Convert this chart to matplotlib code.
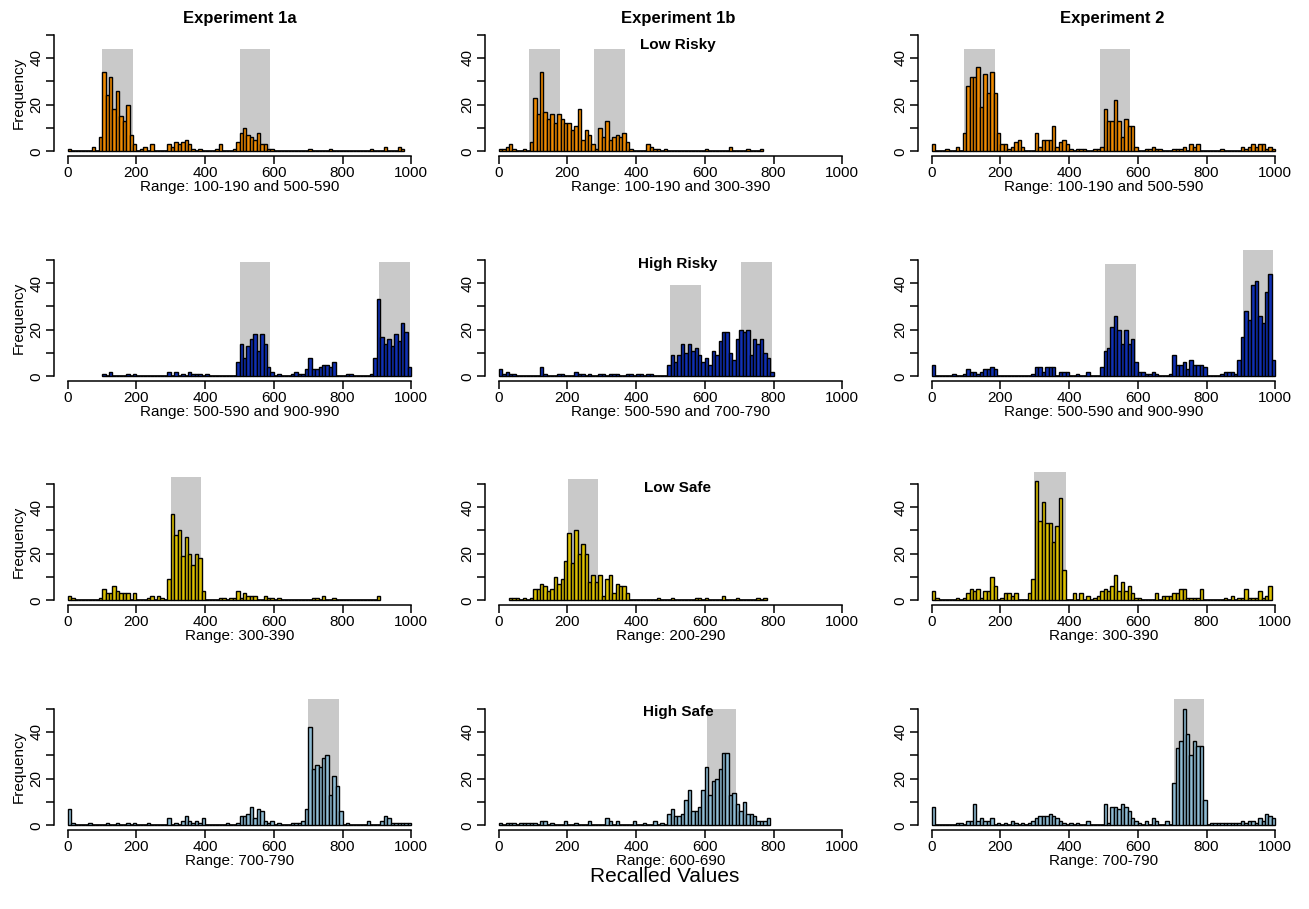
import numpy as np
import matplotlib
matplotlib.use('Agg')
from matplotlib import pyplot as plt
from matplotlib.patches import Rectangle


# histogram counts, bins of width 10 from 0 to 1000
e1a_low_risky = [
    1, 0, 0, 0, 0, 0, 0, 2, 0, 6,
    34, 24, 32, 18, 26, 15, 13, 20, 7, 3,
    0, 1, 2, 0, 3, 0, 0, 0, 0, 3,
    2, 4, 3, 4, 5, 3, 1, 0, 1, 0,
    0, 0, 0, 1, 3, 0, 0, 0, 1, 4,
    8, 10, 7, 6, 5, 8, 3, 3, 1, 1,
    0, 0, 0, 0, 0, 0, 0, 0, 0, 0,
    1, 0, 0, 0, 0, 0, 1, 0, 0, 0,
    0, 0, 0, 0, 0, 0, 0, 0, 1, 0,
    0, 0, 2, 0, 0, 0, 2, 1, 0, 0,
]
e1b_low_risky = [
    1, 1, 2, 3, 1, 0, 0, 1, 0, 4,
    23, 16, 34, 17, 14, 16, 12, 16, 14, 12,
    12, 9, 11, 18, 5, 9, 7, 3, 1, 10,
    6, 13, 5, 6, 7, 6, 8, 4, 1, 0,
    0, 0, 0, 3, 2, 1, 1, 0, 1, 0,
    0, 0, 0, 0, 0, 0, 0, 0, 0, 0,
    1, 0, 0, 0, 0, 0, 0, 2, 0, 0,
    0, 0, 1, 0, 0, 0, 1, 0, 0, 0,
    0, 0, 0, 0, 0, 0, 0, 0, 0, 0,
    0, 0, 0, 0, 0, 0, 0, 0, 0, 0,
]
e2_low_risky = [
    3, 0, 0, 0, 1, 0, 0, 2, 0, 8,
    28, 32, 32, 36, 19, 33, 25, 34, 25, 8,
    3, 3, 1, 2, 4, 5, 2, 0, 0, 0,
    8, 2, 5, 5, 5, 11, 2, 4, 5, 3,
    1, 0, 1, 1, 1, 0, 0, 1, 1, 2,
    18, 13, 13, 22, 13, 6, 14, 11, 11, 2,
    0, 0, 1, 1, 2, 1, 1, 0, 0, 0,
    1, 1, 1, 2, 0, 3, 2, 3, 0, 0,
    0, 0, 0, 0, 1, 0, 0, 0, 0, 0,
    2, 1, 2, 3, 2, 3, 3, 1, 2, 1,
]

e1a_high_risky = [
    0, 0, 0, 0, 0, 0, 0, 0, 0, 0,
    1, 0, 2, 0, 0, 0, 0, 1, 0, 1,
    0, 0, 0, 0, 0, 0, 0, 0, 0, 2,
    0, 2, 0, 1, 0, 2, 1, 1, 1, 0,
    1, 0, 0, 0, 0, 0, 0, 0, 0, 6,
    14, 8, 13, 16, 18, 11, 18, 14, 4, 2,
    0, 1, 0, 0, 0, 1, 2, 1, 1, 3,
    8, 3, 3, 4, 5, 5, 4, 6, 0, 0,
    0, 1, 1, 0, 0, 0, 0, 0, 1, 8,
    33, 17, 14, 16, 13, 18, 15, 23, 19, 4,
]
e1b_high_risky = [
    3, 1, 2, 1, 1, 0, 0, 0, 0, 0,
    0, 0, 4, 1, 0, 0, 0, 1, 1, 0,
    0, 0, 2, 1, 1, 0, 1, 0, 0, 1,
    1, 0, 1, 1, 1, 0, 0, 1, 1, 0,
    1, 1, 0, 1, 1, 0, 0, 0, 0, 5,
    9, 6, 9, 14, 10, 14, 11, 12, 9, 6,
    8, 5, 11, 9, 15, 19, 19, 10, 7, 16,
    20, 19, 20, 9, 16, 14, 16, 10, 8, 2,
    0, 0, 0, 0, 0, 0, 0, 0, 0, 0,
    0, 0, 0, 0, 0, 0, 0, 0, 0, 0,
]
e2_high_risky = [
    5, 0, 0, 0, 0, 0, 1, 0, 0, 1,
    3, 2, 2, 1, 2, 3, 3, 4, 3, 0,
    0, 0, 0, 0, 0, 0, 0, 0, 0, 1,
    4, 4, 2, 4, 4, 4, 0, 2, 2, 2,
    0, 0, 1, 0, 0, 2, 0, 0, 0, 4,
    11, 12, 21, 26, 20, 14, 20, 14, 16, 6,
    2, 2, 1, 1, 2, 1, 0, 0, 0, 1,
    9, 5, 5, 6, 3, 7, 5, 5, 5, 4,
    0, 0, 0, 0, 1, 2, 2, 2, 1, 7,
    17, 28, 24, 39, 41, 26, 23, 36, 44, 7,
]

e1a_low_safe = [
    2, 1, 0, 0, 0, 0, 0, 0, 0, 1,
    5, 3, 3, 6, 4, 3, 3, 3, 0, 3,
    0, 0, 0, 1, 2, 0, 2, 1, 0, 9,
    37, 28, 30, 19, 27, 20, 15, 20, 18, 4,
    0, 0, 0, 0, 1, 1, 0, 1, 1, 4,
    1, 3, 2, 2, 2, 0, 0, 2, 1, 1,
    0, 1, 0, 0, 0, 0, 0, 0, 0, 0,
    0, 1, 1, 0, 2, 0, 0, 1, 0, 0,
    0, 0, 0, 0, 0, 0, 0, 0, 0, 0,
    2, 0, 0, 0, 0, 0, 0, 0, 0, 0,
]
e1b_low_safe = [
    0, 0, 0, 1, 1, 1, 0, 1, 0, 1,
    5, 5, 7, 6, 4, 5, 10, 7, 9, 17,
    29, 16, 30, 20, 24, 20, 8, 11, 8, 11,
    2, 9, 11, 3, 7, 6, 6, 3, 0, 0,
    0, 0, 0, 0, 0, 0, 1, 0, 0, 0,
    1, 0, 0, 0, 0, 0, 0, 1, 1, 0,
    1, 0, 0, 0, 0, 2, 0, 0, 0, 1,
    0, 0, 0, 0, 0, 1, 0, 1, 0, 0,
    0, 0, 0, 0, 0, 0, 0, 0, 0, 0,
    0, 0, 0, 0, 0, 0, 0, 0, 0, 0,
]
e2_low_safe = [
    4, 1, 0, 0, 0, 0, 0, 1, 0, 1,
    3, 5, 4, 5, 1, 4, 4, 10, 6, 0,
    1, 3, 3, 2, 3, 0, 0, 0, 3, 9,
    51, 34, 42, 33, 33, 25, 32, 44, 13, 0,
    0, 3, 0, 3, 0, 2, 0, 1, 2, 4,
    5, 4, 6, 11, 4, 8, 4, 6, 3, 1,
    1, 0, 0, 0, 0, 3, 0, 2, 2, 2,
    3, 3, 5, 5, 1, 1, 1, 1, 5, 0,
    0, 0, 0, 0, 0, 1, 0, 2, 0, 1,
    1, 5, 1, 1, 1, 4, 1, 2, 6, 0,
]

e1a_high_safe = [
    7, 1, 0, 0, 0, 0, 1, 0, 0, 0,
    0, 1, 0, 0, 1, 0, 0, 1, 0, 1,
    0, 0, 0, 1, 0, 0, 0, 0, 0, 3,
    0, 1, 0, 2, 4, 2, 1, 2, 1, 3,
    0, 0, 0, 0, 0, 0, 1, 0, 0, 1,
    4, 4, 5, 8, 3, 7, 6, 2, 1, 2,
    0, 1, 0, 0, 0, 1, 1, 1, 2, 7,
    42, 24, 26, 25, 29, 30, 13, 21, 17, 6,
    0, 1, 0, 0, 0, 0, 0, 2, 0, 0,
    0, 2, 4, 3, 1, 1, 1, 1, 1, 1,
]
e1b_high_safe = [
    1, 0, 1, 1, 1, 0, 1, 1, 1, 1,
    1, 0, 2, 2, 0, 1, 0, 0, 0, 2,
    0, 0, 1, 0, 0, 0, 2, 0, 0, 0,
    0, 3, 2, 0, 2, 0, 0, 0, 0, 2,
    0, 0, 1, 0, 0, 2, 0, 1, 0, 5,
    7, 4, 4, 5, 11, 15, 6, 6, 8, 15,
    25, 13, 19, 20, 24, 31, 31, 13, 14, 9,
    6, 10, 5, 5, 4, 2, 2, 2, 3, 0,
    0, 0, 0, 0, 0, 0, 0, 0, 0, 0,
    0, 0, 0, 0, 0, 0, 0, 0, 0, 0,
]
e2_high_safe = [
    8, 0, 0, 0, 0, 0, 0, 1, 1, 0,
    2, 2, 9, 2, 3, 2, 2, 3, 0, 1,
    0, 1, 0, 2, 1, 0, 1, 0, 1, 2,
    3, 4, 4, 4, 5, 4, 3, 2, 1, 0,
    1, 0, 1, 0, 0, 2, 0, 0, 0, 0,
    9, 1, 8, 8, 7, 9, 8, 6, 3, 2,
    1, 0, 2, 0, 3, 2, 0, 0, 2, 0,
    18, 33, 36, 50, 39, 30, 36, 34, 34, 11,
    0, 1, 1, 1, 1, 1, 1, 1, 1, 1,
    2, 1, 2, 2, 1, 3, 2, 5, 4, 3,
]

experiments = ['Experiment 1a', 'Experiment 1b', 'Experiment 2']
conditions = ['Low Risky', 'High Risky', 'Low Safe', 'High Safe']

counts = [
    [e1a_low_risky, e1a_high_risky, e1a_low_safe, e1a_high_safe],
    [e1b_low_risky, e1b_high_risky, e1b_low_safe, e1b_high_safe],
    [e2_low_risky, e2_high_risky, e2_low_safe, e2_high_safe],
]

# grey target ranges as drawn, and their heights
shade_ranges = [
    [[(100, 190), (500, 590)], [(500, 590), (905, 995)], [(300, 388)], [(700, 790)]],
    [[(87, 177), (278, 368)], [(498, 588), (705, 795)], [(202, 290)], [(605, 692)]],
    [[(95, 183), (490, 578)], [(505, 595), (905, 993)], [(298, 392)], [(705, 793)]],
]
shade_heights = [
    [[44, 44], [49, 49], [53], [54]],
    [[44, 44], [39, 49], [52], [50]],
    [[44, 44], [48, 54], [55], [54]],
]

range_labels = [
    ['Range: 100-190 and 500-590', 'Range: 500-590 and 900-990', 'Range: 300-390', 'Range: 700-790'],
    ['Range: 100-190 and 300-390', 'Range: 500-590 and 700-790', 'Range: 200-290', 'Range: 600-690'],
    ['Range: 100-190 and 500-590', 'Range: 500-590 and 900-990', 'Range: 300-390', 'Range: 700-790'],
]

row_colors = ['#ee8a00', '#1030b4', '#dcc000', '#8dbad2']

bin_edges = np.arange(0, 1000, 10)


def plot_panel(ax, hist, shades, heights, color, xlabel, show_ylab=False):
    hist = np.asarray(hist)
    nz = np.nonzero(hist)[0]
    lo, hi = nz[0], nz[-1] + 1

    for (a, b), h in zip(shades, heights):
        ax.add_patch(Rectangle((a, 0), b - a, h, facecolor='#c9c9c9',
                               edgecolor='none', zorder=0, clip_on=False))

    # empty bins show up as a flat line, like R's hist
    ax.hlines(0, bin_edges[lo], bin_edges[hi - 1] + 10, color='black',
              lw=1.2, zorder=1)
    ax.bar(bin_edges[lo:hi], hist[lo:hi], width=10, align='edge',
           color=color, edgecolor='black', lw=1.0, zorder=2)

    ax.set_xlim(-40, 1040)
    ax.set_ylim(-2, 52)
    for s in ['top', 'right']:
        ax.spines[s].set_visible(False)
    ax.spines['left'].set_bounds(0, 50)
    ax.spines['bottom'].set_bounds(0, 1000)
    for s in ['left', 'bottom']:
        ax.spines[s].set_linewidth(1.1)

    ax.set_xticks(np.arange(0, 1001, 200))
    ax.set_yticks(np.arange(0, 51, 10), ['0', '', '20', '', '40', ''])
    ax.tick_params(direction='out', length=6, width=1.1, labelsize=11, pad=1.5)
    plt.setp(ax.get_yticklabels(), rotation=90, va='center')
    ax.set_xlabel(xlabel, fontsize=11, labelpad=0)
    if show_ylab:
        ax.set_ylabel('Frequency', fontsize=11, labelpad=3)


plt.rcParams['font.family'] = ['Liberation Sans', 'DejaVu Sans']

W, H = 1309, 909
fig = plt.figure(figsize=(W / 100, H / 100), dpi=100)

col_left = [54, 485, 918]
row_top = [30, 255, 479, 704]
ax_w, ax_h = 371, 126
cond_y = [0.88, 0.93, 0.93, 0.94]
title_x = [240, 678, 1112]

for i in range(3):
    for j in range(4):
        ax = fig.add_axes([col_left[i] / W, 1 - (row_top[j] + ax_h) / H,
                           ax_w / W, ax_h / H])
        plot_panel(ax, counts[i][j], shade_ranges[i][j], shade_heights[i][j],
                   row_colors[j], range_labels[i][j], show_ylab=(i == 0))
        if i == 1:
            ax.text((678 - col_left[i]) / ax_w, cond_y[j], conditions[j],
                    transform=ax.transAxes, ha='center', va='center',
                    fontsize=11, weight='bold', zorder=5)
    fig.text(title_x[i] / W, 1 - 18 / H, experiments[i], ha='center',
             va='center', fontsize=12, weight='bold')

fig.text(665 / W, 1 - 876 / H, 'Recalled Values', ha='center', va='center',
         fontsize=15)

fig.savefig('out.png', dpi=100)
